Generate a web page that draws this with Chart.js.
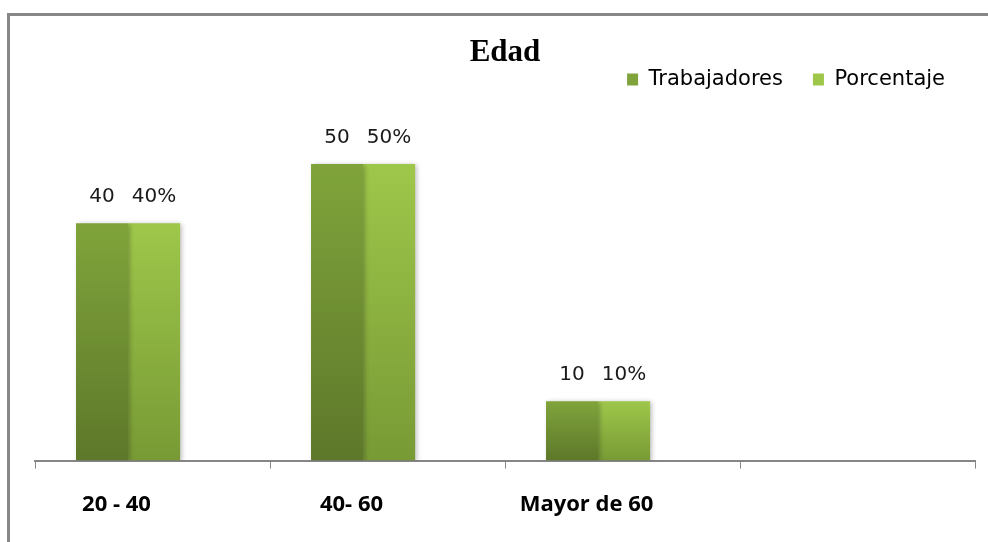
<!DOCTYPE html>
<html>
<head>
<meta charset="utf-8">
<script src="https://cdn.jsdelivr.net/npm/chart.js@4/dist/chart.umd.min.js"></script>
<style>
  body { margin: 0; background: #fff; }
  .wrap { position: relative; width: 988px; height: 542px; overflow: hidden; }
  .frame {
    position: absolute; left: 7px; top: 13px; width: 1100px; height: 700px;
    border-top: 3px solid #878787; border-left: 3px solid #878787;
  }
  canvas { position: absolute; left: 0; top: 0; }
</style>
</head>
<body>
<div class="wrap">
  <div class="frame"></div>
  <canvas id="myChart" width="988" height="542"></canvas>
</div>
<script>
// data
const categories = ["20 - 40", "40- 60", "Mayor de 60", ""];
const seriesNames = ["Trabajadores", "Porcentaje"];
const trabajadores = [40, 50, 10];
const porcentaje = [40, 50, 10];
const labelSuffix = ["", "%"];

// colours: top / bottom of each bar
const darkTop = "#80a43b", darkBottom = "#5d782a";
const lightTop = "#9ec74a", lightBottom = "#789a35";

function barFill(top, bottom) {
  return function (c) {
    const chart = c.chart;
    if (!chart.chartArea || c.type !== "data") return top;
    const y = chart.scales.y;
    const y0 = y.getPixelForValue(c.raw.y);
    const y1 = y.getPixelForValue(0);
    const g = chart.ctx.createLinearGradient(0, y0, 0, y1);
    g.addColorStop(0, top);
    g.addColorStop(1, bottom);
    return g;
  };
}

function toPoints(values) {
  return values.map((v, i) => ({ x: i, y: v }));
}

// soft shadow behind the bars
const barShadow = {
  id: "barShadow",
  beforeDatasetsDraw(chart) {
    const ctx = chart.ctx;
    ctx.save();
    ctx.shadowColor = "rgba(0,0,0,0.28)";
    ctx.shadowBlur = 5;
    ctx.shadowOffsetX = 2;
    ctx.shadowOffsetY = 1;
  },
  afterDatasetsDraw(chart) {
    chart.ctx.restore();
  },
};

// value labels above the bars
const valueLabels = {
  id: "valueLabels",
  afterDatasetsDraw(chart) {
    const ctx = chart.ctx;
    ctx.save();
    ctx.font = "20px 'DejaVu Sans'";
    ctx.fillStyle = "#1a1a1a";
    ctx.textAlign = "center";
    ctx.textBaseline = "alphabetic";
    chart.data.datasets.forEach((ds, di) => {
      const meta = chart.getDatasetMeta(di);
      meta.data.forEach((bar, i) => {
        ctx.fillText(ds.data[i].y + labelSuffix[di], bar.x, bar.y - 21);
      });
    });
    ctx.restore();
  },
};

const ctx = document.getElementById("myChart");

new Chart(ctx, {
  type: "bar",
  data: {
    labels: categories,
    datasets: [
      {
        label: seriesNames[0],
        data: toPoints(trabajadores),
        xAxisID: "xb",
        backgroundColor: barFill(darkTop, darkBottom),
      },
      {
        label: seriesNames[1],
        data: toPoints(porcentaje),
        xAxisID: "xb",
        backgroundColor: barFill(lightTop, lightBottom),
      },
    ],
  },
  options: {
    responsive: false,
    animation: false,
    categoryPercentage: 0.443,
    barPercentage: 1,
    layout: { padding: { left: 35, right: 13, top: 0, bottom: 1 } },
    scales: {
      x: {
        type: "category",
        position: "bottom",
        offset: true,
        grid: {
          offset: true,
          drawOnChartArea: false,
          tickLength: 8,
          color: "#868686",
          lineWidth: 1,
        },
        border: { color: "#868686", width: 2 },
        ticks: {
          padding: 23,
          labelOffset: -36,
          color: "#000",
          font: { family: "Open Sans", size: 22, weight: "bold" },
          autoSkip: false,
          maxRotation: 0,
        },
      },
      xb: {
        type: "linear",
        display: false,
        min: -0.396,
        max: 3.604,
        offset: false,
        // one tick per category so the bars get the full category width
        afterBuildTicks: (s) => {
          s.ticks = categories.map((c, i) => ({ value: i }));
        },
      },
      y: {
        display: false,
        min: 0,
        max: 60.8,
      },
    },
    plugins: {
      title: {
        display: true,
        text: "Edad",
        fullSize: false,
        color: "#000",
        font: { family: "Liberation Serif", size: 31, weight: "bold", lineHeight: 1 },
        padding: { top: 37, bottom: -29 },
      },
      legend: {
        display: true,
        position: "top",
        align: "end",
        fullSize: false,
        labels: {
          boxWidth: 11,
          boxHeight: 12,
          padding: 30,
          color: "#000",
          font: { family: "DejaVu Sans", size: 21 },
        },
      },
      tooltip: { enabled: false },
    },
  },
  plugins: [barShadow, valueLabels],
});
</script>
</body>
</html>
